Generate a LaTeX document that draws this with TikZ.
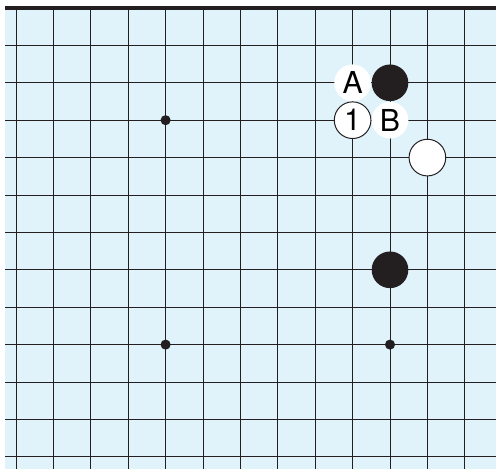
\documentclass[tikz,border=0pt]{standalone}
\usepackage{fontspec}
\setmainfont{TeX Gyre Heros}
\usepackage{tikz}
\usetikzlibrary{positioning}

\definecolor{boardblue}{RGB}{224,243,250}
\definecolor{inkblack}{RGB}{35,31,32}

\newcommand{\stonefont}{\fontsize{23}{24}\selectfont}

\begin{document}
\begin{tikzpicture}[
        x=1cm, y=1cm,
        gridline/.style={draw=inkblack, line width=0.75pt},
        blackstone/.style={circle, fill=inkblack, minimum size=0.98cm, inner sep=0pt},
        whitestone/.style={circle, draw=inkblack, fill=white, line width=0.75pt, minimum size=0.98cm, inner sep=0pt, font=\stonefont},
        marker/.style={circle, fill=white, minimum size=0.98cm, inner sep=0pt, font=\stonefont},
        hoshi/.style={circle, fill=inkblack, minimum size=0.27cm, inner sep=0pt}
    ]
    \useasboundingbox (-0.428,0.214) rectangle (12.834,-12.326);

    % Board
    \fill[boardblue] (-0.294,0) rectangle (12.834,-12.326);
    \foreach \i in {0,...,12}
        \draw[gridline] (\i,0) -- (\i,-12.326);
    \foreach \j in {1,...,12}
        \draw[gridline] (-0.294,-\j) -- (12.834,-\j);
    \draw[draw=inkblack, line width=3pt] (-0.294,0) -- (12.834,0);

    % Star points
    \node[hoshi] (star-a) at (4,-3) {};
    \node[hoshi] (star-b) at (4,-9) {};
    \node[hoshi] (star-c) at (10,-9) {};

    % Stones
    \node[blackstone] (black-top) at (10,-2) {};
    \node[blackstone] (black-low) at (10,-7) {};
    \node[whitestone] (white-side) at (11,-4) {};
    \node[whitestone] (move-one) at (9,-3) {1};

    % Labels
    \node[marker] (label-a) at (9,-2) {A};
    \node[marker] (label-b) at (10,-3) {B};

\end{tikzpicture}
\end{document}
